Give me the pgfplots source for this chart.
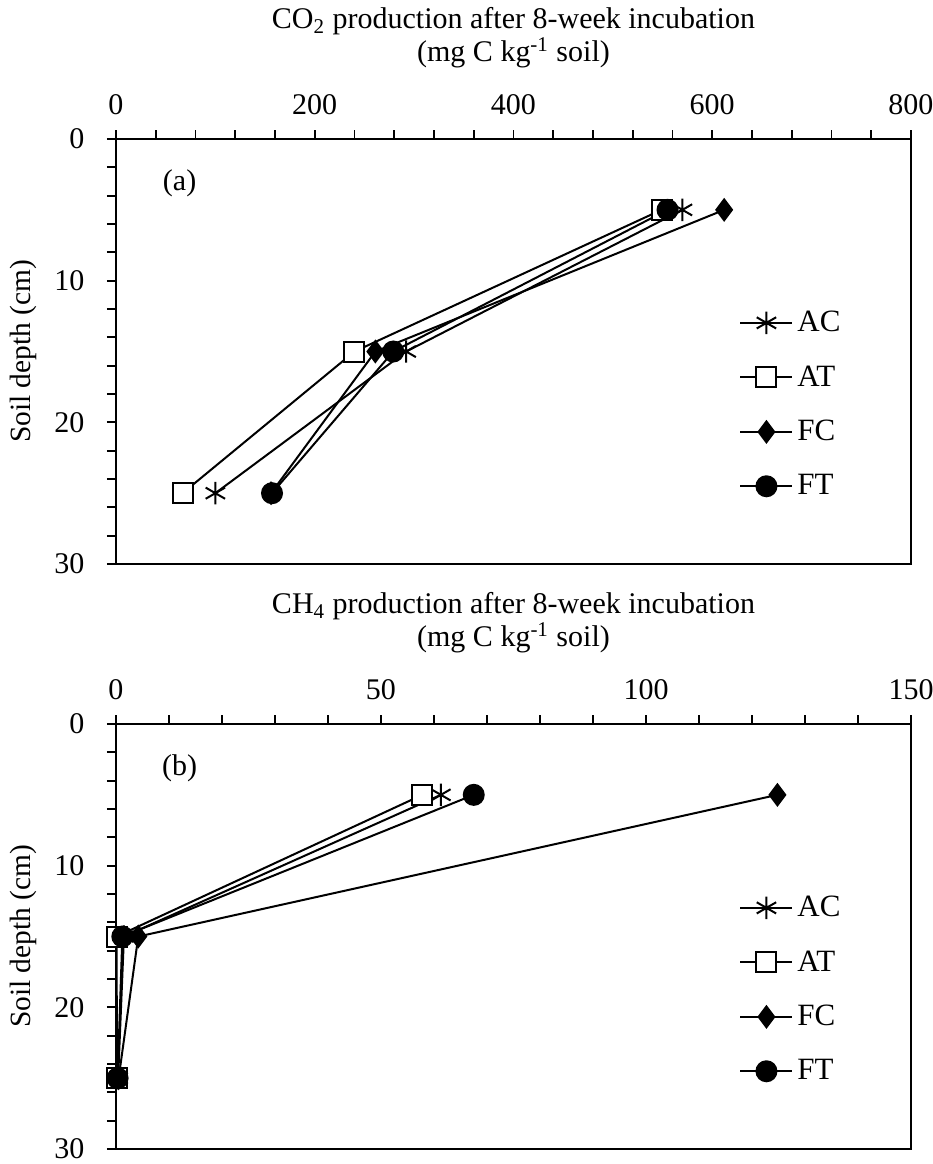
\documentclass[border=0pt]{standalone}
\usepackage{pgfplots}
\pgfplotsset{compat=1.18}
\usepackage{fontspec}
\setmainfont{Liberation Serif}

\pgfplotsset{
  myaxis/.style={
    scale only axis, width=397.5pt, height=212.5pt,
    y dir=reverse, ymin=0, ymax=30, ytick={0,10,20,30}, minor y tick num=4,
    axis x line*=top, axis y line*=left,
    axis line style={-, line width=1pt, black},
    tick align=outside, major tick length=4.5pt, minor tick length=4.5pt,
    every tick/.style={black, line width=0.9pt},
    minor tick style={black, line width=0.9pt},
    tick label style={font=\fontsize{15}{17}\selectfont},
    /pgf/number format/assume math mode=true,
    xticklabel style={yshift=4pt},
    yticklabel style={xshift=-7.8pt},
    ylabel={Soil depth (cm)},
    every axis y label/.style={at={(axis description cs:-0.117,0.5)}, rotate=90, anchor=center, font=\fontsize{14.7}{16}\selectfont},
    legend style={draw=none, fill=none, at={(axis description cs:0.7837,0.3753)}, anchor=west,
      font=\fontsize{15.5}{17}\selectfont, row sep=11.5pt, inner sep=0pt,
      /tikz/every even column/.append style={column sep=0pt}},
    legend cell align=left,
    legend image code/.code={\draw[mark repeat=2,mark phase=2,#1] plot coordinates {(0pt,0pt) (13pt,0pt) (26pt,0pt)};},
    clip=false,
  },
  sAC/.style={black, line width=1pt, mark=asterisk, mark size=5.6pt, mark options={line width=1pt, solid}},
  sAT/.style={black, line width=1pt, mark=square*, mark size=5pt, mark options={fill=white, line width=1pt, solid}},
  sFC/.style={black, line width=1pt, mark=diamond*, mark size=5.2pt, mark options={fill=black, solid}},
  sFT/.style={black, line width=1pt, mark=*, mark size=5pt, mark options={fill=black, solid}},
}

\begin{document}
\begin{tikzpicture}
\path[use as bounding box] (0,0) rectangle (466.5pt,-582pt);

\begin{axis}[myaxis, at={(58pt,-282pt)}, anchor=south west,
  xmin=0, xmax=800, xtick={0,200,400,600,800}, minor x tick num=4]
\addplot[sAC] coordinates {(570,5) (292,15) (100,25)};
\addlegendentry{AC}
\addplot[sAT] coordinates {(549,5) (240,15) (67,25)};
\addlegendentry{AT}
\addplot[sFC] coordinates {(612,5) (261,15) (156,25)};
\addlegendentry{FC}
\addplot[sFT] coordinates {(555,5) (279,15) (157,25)};
\addlegendentry{FT}
\draw[line width=0.7pt] (axis description cs:0,0) -- (axis description cs:1,0) -- (axis description cs:1,1);
\node[align=center, font=\fontsize{15}{16.5}\selectfont] at (axis description cs:0.5,1.238)
  {CO\textsubscript{2} production after 8-week incubation\\(mg C kg\textsuperscript{-1} soil)};
\node[font=\fontsize{15}{16}\selectfont] at (axis description cs:0.080,0.896) {(a)};
\end{axis}

\begin{axis}[myaxis, at={(58pt,-574.5pt)}, anchor=south west,
  xmin=0, xmax=150, xtick={0,50,100,150}, minor x tick num=4]
\addplot[sAC] coordinates {(61.3,5) (1.5,15) (0.4,25)};
\addlegendentry{AC}
\addplot[sAT] coordinates {(57.8,5) (0.1,15) (0.2,25)};
\addlegendentry{AT}
\addplot[sFC] coordinates {(124.8,5) (4.2,15) (0.5,25)};
\addlegendentry{FC}
\addplot[sFT] coordinates {(67.5,5) (1.2,15) (0.3,25)};
\addlegendentry{FT}
\draw[line width=0.7pt] (axis description cs:0,0) -- (axis description cs:1,0) -- (axis description cs:1,1);
\node[align=center, font=\fontsize{15}{16.5}\selectfont] at (axis description cs:0.5,1.238)
  {CH\textsubscript{4} production after 8-week incubation\\(mg C kg\textsuperscript{-1} soil)};
\node[font=\fontsize{15}{16}\selectfont] at (axis description cs:0.080,0.896) {(b)};
\end{axis}
\end{tikzpicture}
\end{document}
